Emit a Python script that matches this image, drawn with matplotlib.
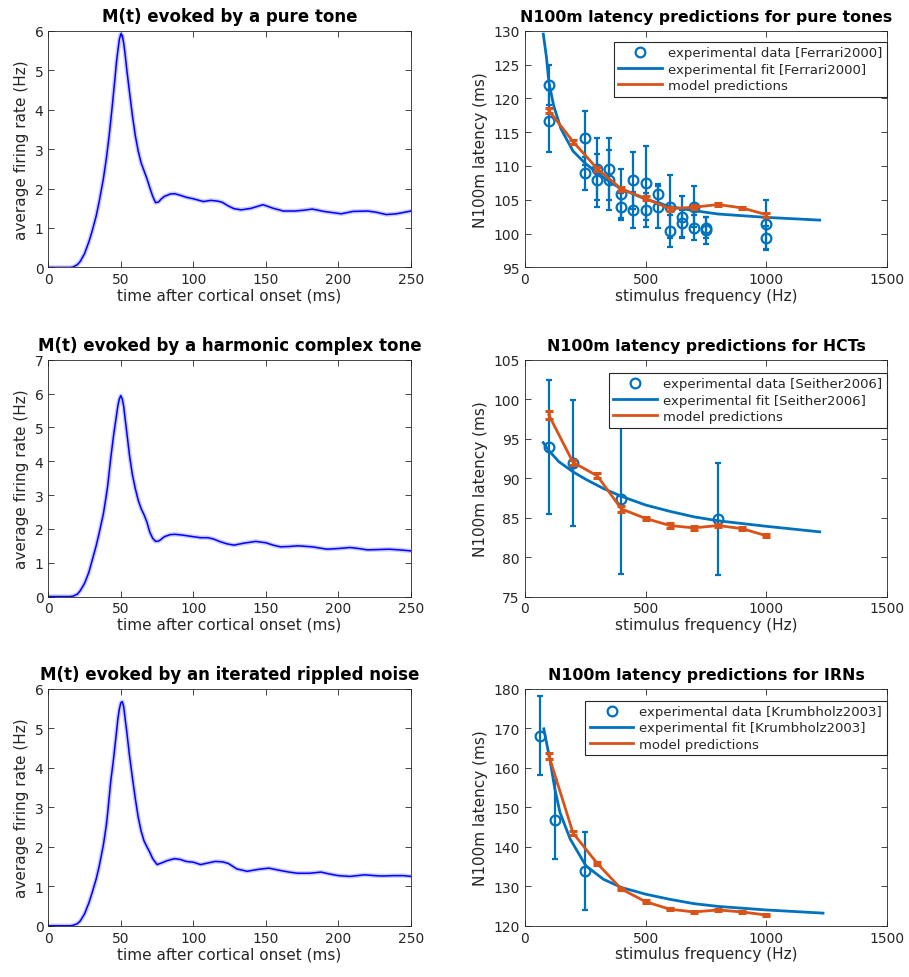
import matplotlib
matplotlib.use("Agg")
import matplotlib.pyplot as plt

# ---- M(t) curves (left column) ----
t_pure = [0, 15, 17, 20, 22, 25, 28, 30, 33, 35, 38, 40, 42, 44, 46, 47, 48, 49, 50, 51, 52, 53, 54,
          56, 58, 60, 62, 64, 66, 68, 70, 72, 74, 76, 78, 80, 84, 87, 90, 95, 100, 104, 107, 112,
          117, 120, 124, 128, 133, 140, 148, 155, 162, 170, 176, 182, 190, 196, 202, 210, 220,
          226, 233, 240, 250]
m_pure = [0, 0, 0.01, 0.07, 0.15, 0.35, 0.65, 0.89, 1.30, 1.65, 2.25, 2.75, 3.35, 4.05, 4.80, 5.20,
          5.50, 5.78, 5.92, 5.88, 5.68, 5.40, 5.05, 4.44, 3.85, 3.34, 2.95, 2.65, 2.45, 2.25, 2.02,
          1.80, 1.64, 1.66, 1.74, 1.80, 1.86, 1.87, 1.84, 1.78, 1.74, 1.70, 1.67, 1.70, 1.68, 1.65,
          1.56, 1.49, 1.46, 1.50, 1.59, 1.50, 1.43, 1.43, 1.45, 1.48, 1.42, 1.39, 1.36, 1.42, 1.43,
          1.40, 1.34, 1.36, 1.43]

t_hct = [0, 15, 17, 20, 22, 25, 28, 30, 33, 35, 38, 40, 41, 43, 45, 47, 48, 49, 50, 51, 52, 53, 54,
         56, 58, 60, 62, 64, 66, 68, 70, 72, 74, 76, 78, 80, 84, 87, 92, 100, 105, 110, 114, 118,
         123, 128, 135, 143, 150, 155, 160, 166, 172, 182, 192, 200, 208, 214, 220, 228, 235,
         242, 250]
m_hct = [0, 0, 0.01, 0.07, 0.17, 0.39, 0.72, 1.03, 1.50, 1.86, 2.45, 2.99, 3.29, 4.07, 4.76, 5.35,
         5.65, 5.84, 5.94, 5.84, 5.62, 5.25, 4.90, 4.17, 3.60, 3.19, 2.85, 2.60, 2.42, 2.20, 1.90,
         1.72, 1.63, 1.64, 1.70, 1.77, 1.83, 1.84, 1.82, 1.77, 1.74, 1.74, 1.70, 1.63, 1.56, 1.52,
         1.58, 1.63, 1.59, 1.52, 1.47, 1.48, 1.50, 1.47, 1.40, 1.42, 1.45, 1.42, 1.38, 1.39, 1.40,
         1.38, 1.35]

t_irn = [0, 15, 17, 20, 22, 25, 28, 30, 33, 35, 38, 40, 41, 43, 45, 47, 48, 49, 50, 51, 52, 53, 54,
         56, 58, 60, 62, 64, 66, 68, 70, 72, 75, 78, 82, 87, 91, 95, 100, 105, 110, 115, 120, 124,
         130, 137, 145, 152, 160, 166, 172, 180, 188, 194, 200, 208, 218, 225, 230, 238, 245, 250]
m_irn = [0, 0, 0.01, 0.05, 0.12, 0.30, 0.58, 0.81, 1.18, 1.49, 2.05, 2.54, 2.88, 3.64, 4.23, 4.90,
         5.25, 5.49, 5.65, 5.68, 5.55, 5.24, 4.95, 4.31, 3.75, 3.22, 2.75, 2.40, 2.15, 2.00, 1.86,
         1.70, 1.55, 1.59, 1.65, 1.70, 1.68, 1.63, 1.61, 1.55, 1.59, 1.63, 1.62, 1.58, 1.44, 1.38,
         1.43, 1.46, 1.40, 1.36, 1.33, 1.33, 1.36, 1.31, 1.27, 1.25, 1.29, 1.27, 1.26, 1.27, 1.27,
         1.25]

# ---- pure tones (Ferrari2000) ----
pt_exp_f = [100, 100, 250, 250, 300, 300, 350, 350, 400, 400, 450, 450, 500, 500,
            550, 550, 600, 600, 650, 650, 700, 700, 750, 750, 1000, 1000]
pt_exp_lat = [122.0, 116.6, 114.1, 108.9, 109.5, 107.9, 109.5, 107.9, 105.9, 104.0, 107.9, 103.5,
              107.5, 103.5, 105.9, 104.0, 104.0, 100.4, 102.4, 101.5, 104.0, 100.9, 100.9, 100.5,
              101.4, 99.4]
pt_exp_err = [3.0, 4.6, 4.0, 2.5, 4.6, 3.9, 4.6, 4.4, 3.6, 2.0, 4.2, 2.6, 5.5, 2.5,
              1.5, 3.1, 4.6, 2.4, 3.1, 2.0, 3.0, 1.9, 1.5, 2.0, 3.6, 1.8]
pt_fit_f = [77, 90, 100, 120, 150, 200, 250, 300, 350, 400, 500, 600, 700, 800, 1000, 1220]
pt_fit_lat = [129.5, 126.1, 122.4, 118.9, 115.5, 112.2, 110.4, 109.0, 107.7, 106.6, 105.1, 104.0,
              103.4, 102.9, 102.4, 102.0]
model_f = [100, 200, 300, 400, 500, 600, 700, 800, 900, 1000]
pt_model = [118.2, 113.6, 109.6, 106.6, 105.2, 103.7, 103.9, 104.3, 103.8, 102.8]
pt_model_err = [0.4, 0.3, 0.3, 0.3, 0.3, 0.3, 0.3, 0.2, 0.2, 0.3]

# ---- HCTs (Seither2006) ----
hct_exp_f = [100, 200, 400, 800]
hct_exp_lat = [94.0, 91.9, 87.4, 84.8]
hct_exp_err = [8.5, 8.0, 9.6, 7.1]
hct_fit_f = [77, 100, 141, 200, 256, 325, 400, 500, 600, 700, 800, 1000, 1220]
hct_fit_lat = [94.5, 93.5, 92.1, 90.8, 89.8, 88.7, 87.7, 86.6, 85.8, 85.1, 84.6, 83.9, 83.2]
hct_model = [98.0, 92.0, 90.3, 86.1, 84.9, 84.0, 83.7, 84.0, 83.6, 82.7]
hct_model_err = [0.5, 0.3, 0.3, 0.4, 0.2, 0.3, 0.3, 0.2, 0.2, 0.2]

# ---- IRNs (Krumbholz2003) ----
irn_exp_f = [63, 125, 250]
irn_exp_lat = [168.2, 146.9, 133.8]
irn_exp_err = [10.0, 10.0, 9.9]
irn_fit_f = [79, 104, 125, 146, 188, 253, 325, 400, 500, 600, 700, 800, 1000, 1234]
irn_fit_lat = [169.9, 162.2, 154.6, 148.7, 142.0, 135.2, 131.8, 129.7, 128.0, 126.7, 125.6,
               124.9, 124.0, 123.2]
irn_model = [163.1, 143.5, 135.8, 129.3, 126.1, 124.2, 123.5, 124.0, 123.5, 122.7]
irn_model_err = [0.8, 0.5, 0.4, 0.3, 0.3, 0.3, 0.3, 0.3, 0.3, 0.3]

BLUE = '#0072BD'
ORANGE = '#D95319'
TXT = '#262626'

plt.rcParams['font.family'] = 'DejaVu Sans'

fig = plt.figure(figsize=(9.09, 9.78), dpi=100)

lefts = [0.0531, 0.5772]
bottoms = [0.7255, 0.3890, 0.0524]
w, h = 0.399, 0.2421


def style(ax):
    ax.tick_params(direction='in', top=True, right=True, labelsize=10, colors=TXT,
                   length=4, width=0.6)
    for s in ax.spines.values():
        s.set_color(TXT)
        s.set_linewidth(0.6)


left_data = [
    (t_pure, m_pure, 6, 'M(t) evoked by a pure tone'),
    (t_hct, m_hct, 7, 'M(t) evoked by a harmonic complex tone'),
    (t_irn, m_irn, 6, 'M(t) evoked by an iterated rippled noise'),
]
for i, (t, m, ymax, title) in enumerate(left_data):
    ax = fig.add_axes([lefts[0], bottoms[i], w, h])
    ax.plot(t, m, color='#8c8cff', lw=3.2, alpha=0.45, solid_joinstyle='round')
    ax.plot(t, m, color='#0000ff', lw=1.1, solid_joinstyle='round')
    ax.set_xlim(0, 250)
    ax.set_ylim(0, ymax)
    ax.set_xticks([0, 50, 100, 150, 200, 250])
    ax.set_yticks(range(0, ymax + 1))
    ax.set_xlabel('time after cortical onset (ms)', fontsize=11, color=TXT, labelpad=1)
    ax.set_ylabel('average firing rate (Hz)', fontsize=11, color=TXT, labelpad=4)
    ax.set_title(title, fontsize=12, fontweight='bold', pad=7)
    style(ax)

right_data = [
    (pt_exp_f, pt_exp_lat, pt_exp_err, pt_fit_f, pt_fit_lat, pt_model, pt_model_err,
     (95, 130), range(95, 131, 5), 'Ferrari2000', 'N100m latency predictions for pure tones', 0.953),
    (hct_exp_f, hct_exp_lat, hct_exp_err, hct_fit_f, hct_fit_lat, hct_model, hct_model_err,
     (75, 105), range(75, 106, 5), 'Seither2006', 'N100m latency predictions for HCTs', 0.945),
    (irn_exp_f, irn_exp_lat, irn_exp_err, irn_fit_f, irn_fit_lat, irn_model, irn_model_err,
     (120, 180), range(120, 181, 10), 'Krumbholz2003', 'N100m latency predictions for IRNs', 0.951),
]
for i, (ef, el, ee, ff, fl, ml, me, ylim, yt, ref, title, ly) in enumerate(right_data):
    ax = fig.add_axes([lefts[1], bottoms[i], w, h])
    ax.errorbar(ef, el, yerr=ee, fmt='none', ecolor=BLUE, elinewidth=1.6, capsize=2.5,
                capthick=1.6, zorder=2)
    h_exp, = ax.plot(ef, el, 'o', mfc='none', mec=BLUE, mew=1.6, ms=7, zorder=3)
    h_fit, = ax.plot(ff, fl, color=BLUE, lw=2.0, zorder=2)
    ax.errorbar(model_f, ml, yerr=me, fmt='none', ecolor=ORANGE, elinewidth=1.8, capsize=3,
                capthick=2.2, zorder=4)
    h_mod, = ax.plot(model_f, ml, color=ORANGE, lw=2.0, zorder=4)
    ax.set_xlim(0, 1500)
    ax.set_ylim(*ylim)
    ax.set_xticks([0, 500, 1000, 1500])
    ax.set_yticks(list(yt))
    ax.set_xlabel('stimulus frequency (Hz)', fontsize=11, color=TXT, labelpad=1)
    ax.set_ylabel('N100m latency (ms)', fontsize=11, color=TXT, labelpad=4)
    ax.set_title(title, fontsize=11.3, fontweight='bold', pad=7)
    style(ax)
    leg = ax.legend([h_exp, h_fit, h_mod],
                    ['experimental data [%s]' % ref, 'experimental fit [%s]' % ref,
                     'model predictions'],
                    loc='upper right', bbox_to_anchor=(0.998, ly), borderaxespad=0,
                    fontsize=9.5, handlelength=3.3, handletextpad=0.45, labelspacing=0.25,
                    borderpad=0.35, fancybox=False, framealpha=1, edgecolor=TXT)
    leg.get_frame().set_linewidth(0.8)
    for txt in leg.get_texts():
        txt.set_color(TXT)

fig.savefig('out.png', dpi=100)
